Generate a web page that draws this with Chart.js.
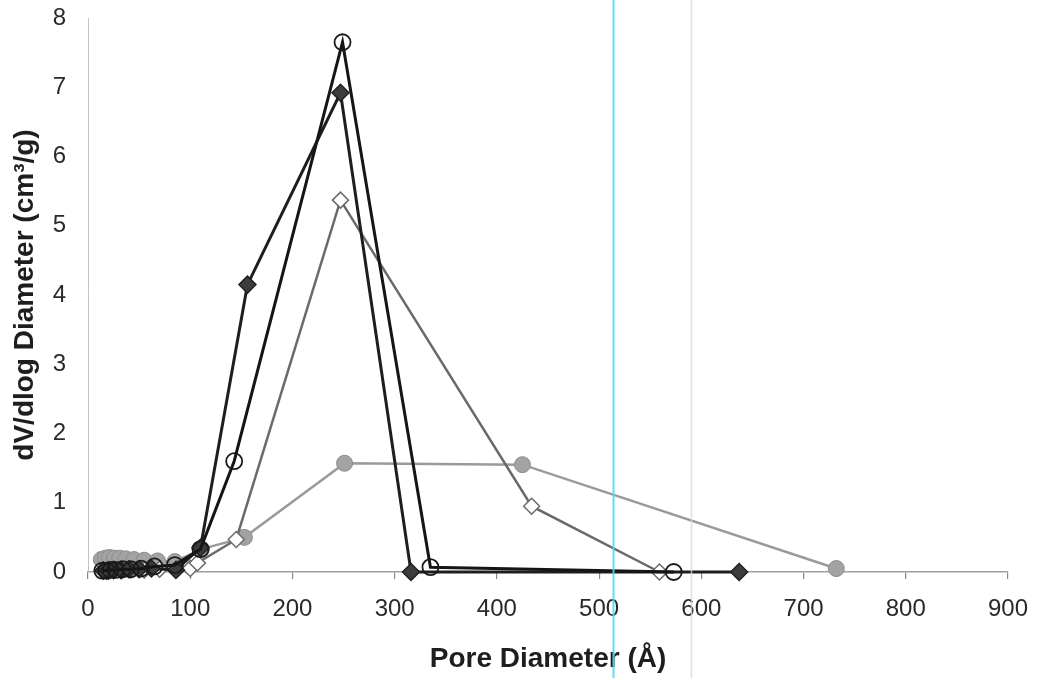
<!DOCTYPE html>
<html>
<head>
<meta charset="utf-8">
<title>Pore size distribution</title>
<script src="https://cdn.jsdelivr.net/npm/chart.js@4/dist/chart.umd.min.js"></script>
<style>
  html, body { margin: 0; padding: 0; background: #ffffff; }
  #wrap { width: 1043px; height: 678px; }
</style>
</head>
<body>
<div id="wrap"><canvas id="chart" width="1043" height="678"></canvas></div>
<script>
// Pore diameter (Å) and dV/dlog D (cm3/g) for the four samples
const xTicks = [0, 100, 200, 300, 400, 500, 600, 700, 800, 900];
const yTicks = [0, 1, 2, 3, 4, 5, 6, 7, 8];

const diamondFilledX = [15, 20, 25, 32, 40, 50, 62, 86, 110, 156, 247, 316, 637];
const diamondFilledY = [0.02, 0.02, 0.03, 0.03, 0.04, 0.04, 0.05, 0.03, 0.35, 4.15, 6.92, 0, 0];

const circleOpenX = [14, 18, 22, 27, 34, 42, 52, 65, 85, 110, 143, 249, 335, 573];
const circleOpenY = [0.02, 0.02, 0.03, 0.03, 0.04, 0.04, 0.05, 0.08, 0.1, 0.33, 1.6, 7.65, 0.07, 0];

const diamondOpenX = [18, 25, 33, 42, 55, 70, 88, 100, 107, 145, 247, 434, 559];
const diamondOpenY = [0.01, 0.02, 0.02, 0.03, 0.03, 0.04, 0.05, 0.05, 0.13, 0.47, 5.37, 0.95, 0];

const circleGreyX = [13, 17, 21, 26, 31, 37, 45, 55, 68, 85, 111, 153, 251, 425, 732];
const circleGreyY = [0.18, 0.2, 0.21, 0.2, 0.2, 0.19, 0.18, 0.17, 0.16, 0.15, 0.33, 0.5, 1.57, 1.55, 0.05];

// faint vertical rules crossing the whole sheet
const ruleX = [514, 590];
const ruleColors = ['rgba(80, 220, 228, 0.9)', 'rgba(236, 205, 222, 0.8)'];

function pairs(xs, ys) {
  return xs.map((x, i) => ({ x: x, y: ys[i] }));
}

const rulesPlugin = {
  id: 'verticalRules',
  afterDraw(chart) {
    const ctx = chart.ctx;
    const sx = chart.scales.x;
    ctx.save();
    ruleX.forEach((v, i) => {
      const px = Math.round(sx.getPixelForValue(v)) + 0.5;
      ctx.strokeStyle = ruleColors[i];
      ctx.lineWidth = i === 0 ? 2 : 1.5;
      ctx.beginPath();
      ctx.moveTo(px, 0);
      ctx.lineTo(px, chart.height);
      ctx.stroke();
    });
    ctx.restore();
  }
};

const tickFont = { family: 'Liberation Sans, Arial, sans-serif', size: 24 };
const titleFont = { family: 'Liberation Sans, Arial, sans-serif', size: 28, weight: 'bold' };

new Chart(document.getElementById('chart'), {
  type: 'scatter',
  data: {
    datasets: [
      {
        label: 'Sample B',
        data: pairs(circleOpenX, circleOpenY),
        showLine: true,
        borderColor: '#151515',
        borderWidth: 3,
        pointStyle: 'circle',
        pointRadius: 8,
        pointBorderWidth: 1.8,
        pointBorderColor: '#1a1a1a',
        pointBackgroundColor: 'rgba(0,0,0,0)',
        clip: false
      },
      {
        label: 'Sample A',
        data: pairs(diamondFilledX, diamondFilledY),
        showLine: true,
        borderColor: '#1e1e1e',
        borderWidth: 3,
        pointStyle: 'rectRot',
        pointRadius: 8.5,
        pointBorderWidth: 1.5,
        pointBorderColor: '#222222',
        pointBackgroundColor: '#3c3c3c',
        clip: false
      },
      {
        label: 'Sample C',
        data: pairs(diamondOpenX, diamondOpenY),
        showLine: true,
        borderColor: '#6a6a6a',
        borderWidth: 2.5,
        pointStyle: 'rectRot',
        pointRadius: 8,
        pointBorderWidth: 1.5,
        pointBorderColor: '#6a6a6a',
        pointBackgroundColor: '#ffffff',
        clip: false
      },
      {
        label: 'Sample D',
        data: pairs(circleGreyX, circleGreyY),
        showLine: true,
        borderColor: '#9a9a9a',
        borderWidth: 2.5,
        pointStyle: 'circle',
        pointRadius: 8,
        pointBorderWidth: 1,
        pointBorderColor: '#8c8c8c',
        pointBackgroundColor: '#a3a3a3',
        clip: false
      }
    ]
  },
  options: {
    responsive: false,
    animation: false,
    layout: { padding: { top: 18, right: 35, left: 0, bottom: 0 } },
    plugins: {
      legend: { display: false },
      tooltip: { enabled: false }
    },
    scales: {
      x: {
        type: 'linear',
        min: 0,
        max: 900,
        afterBuildTicks(scale) { scale.ticks = xTicks.map(v => ({ value: v })); },
        afterFit(scale) {
          scale.height = 106;
          scale.paddingLeft = 0;
          scale.paddingRight = 0;
        },
        ticks: { font: tickFont, color: '#2a2a2a', padding: 16, maxRotation: 0 },
        grid: { drawOnChartArea: false, drawTicks: true, tickLength: 7, color: '#8a8a8a', lineWidth: 1.2 },
        border: { display: true, color: '#a0a0a0', width: 1.5 },
        title: { display: true, text: 'Pore Diameter (Å)', font: titleFont, color: '#1e1e1e', padding: { top: 0, bottom: 2 } }
      },
      y: {
        type: 'linear',
        min: 0,
        max: 8,
        afterBuildTicks(scale) { scale.ticks = yTicks.map(v => ({ value: v })); },
        afterFit(scale) {
          scale.width = 88;
          scale.paddingTop = 0;
          scale.paddingBottom = 0;
        },
        ticks: { font: tickFont, color: '#2a2a2a', padding: 22 },
        grid: { drawOnChartArea: false, drawTicks: false },
        border: { display: true, color: '#c4c4c4', width: 1 },
        title: { display: true, text: 'dV/dlog Diameter (cm³/g)', font: titleFont, color: '#1e1e1e', padding: { top: 8, bottom: 0 } }
      }
    }
  },
  plugins: [rulesPlugin]
});
</script>
</body>
</html>
